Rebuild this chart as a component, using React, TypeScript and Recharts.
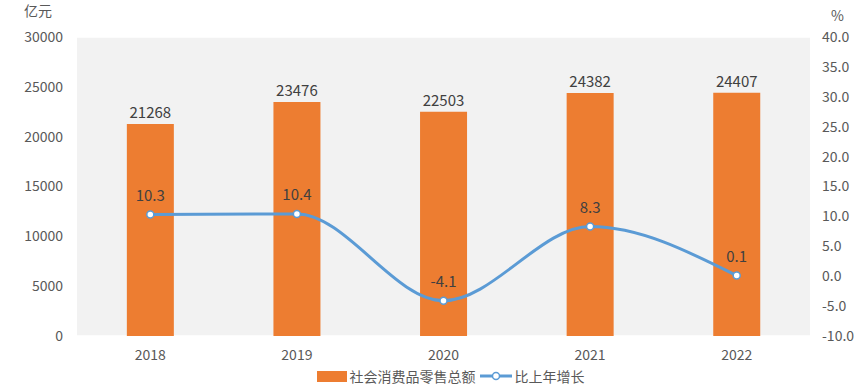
import {
  ComposedChart,
  Bar,
  Line,
  XAxis,
  YAxis,
  CartesianGrid,
  Legend,
  LabelList,
} from "recharts";

const years = ["2018", "2019", "2020", "2021", "2022"];
const retailSales = [21268, 23476, 22503, 24382, 24407];
const growth = [10.3, 10.4, -4.1, 8.3, 0.1];
const leftTicks = [0, 5000, 10000, 15000, 20000, 25000, 30000];
const rightTicks = [-10, -5, 0, 5, 10, 15, 20, 25, 30, 35, 40];

const BAR_NAME = "社会消费品零售总额";
const LINE_NAME = "比上年增长";

const data = years.map((y, i) => ({
  year: y,
  sales: retailSales[i],
  growth: growth[i],
}));

const font = '"Noto Sans CJK SC", "Noto Sans", sans-serif';
const tickStyle = { fill: "#595959", fontSize: 14, fontFamily: font };

function LegendContent() {
  return (
    <div
      style={{
        display: "flex",
        justifyContent: "center",
        alignItems: "center",
        fontFamily: font,
        fontSize: 14,
        color: "#595959",
        height: 20,
        paddingLeft: 40,
      }}
    >
      <span
        style={{
          display: "inline-block",
          width: 30,
          height: 11,
          background: "#ED7D31",
          marginRight: 3,
        }}
      />
      <span style={{ marginRight: 4 }}>{BAR_NAME}</span>
      <svg width={32} height={12} style={{ marginRight: 3 }}>
        <line x1={0} y1={6} x2={32} y2={6} stroke="#5B9BD5" strokeWidth={3} />
        <circle cx={16} cy={6} r={3.5} fill="#fff" stroke="#5B9BD5" strokeWidth={1.5} />
      </svg>
      <span>{LINE_NAME}</span>
    </div>
  );
}

export default function App() {
  return (
    <div style={{ position: "absolute", left: 0, top: 0, width: 861, height: 386, background: "#fff" }}>
      <div
        style={{
          position: "absolute",
          left: 24,
          top: 0,
          fontFamily: font,
          fontSize: 14,
          color: "#595959",
        }}
      >
        亿元
      </div>
      <div
        style={{
          position: "absolute",
          left: 831,
          top: 5,
          fontFamily: font,
          fontSize: 14,
          color: "#595959",
        }}
      >
        %
      </div>
      <ComposedChart
        width={861}
        height={386}
        data={data}
        margin={{ top: 37, right: 0, bottom: 0, left: 0 }}
        barCategoryGap="34%"
      >
        <CartesianGrid
          vertical={false}
          fill="#F2F2F2"
          stroke="#FFFFFF"
          strokeWidth={1.5}
        />
        <XAxis
          dataKey="year"
          axisLine={false}
          tickLine={false}
          tick={tickStyle}
          height={30}
          tickMargin={8}
        />
        <YAxis
          yAxisId="left"
          domain={[0, 30000]}
          ticks={leftTicks}
          axisLine={false}
          tickLine={false}
          tick={tickStyle}
          width={77}
          tickMargin={8}
        />
        <YAxis
          yAxisId="right"
          orientation="right"
          domain={[-10, 40]}
          ticks={rightTicks}
          tickFormatter={(v: number) => v.toFixed(1)}
          axisLine={false}
          tickLine={false}
          tick={tickStyle}
          width={51}
          tickMargin={6}
        />
        <Legend verticalAlign="bottom" height={20} content={<LegendContent />} />
        <Bar
          yAxisId="left"
          dataKey="sales"
          name={BAR_NAME}
          fill="#ED7D31"
          isAnimationActive={false}
        >
          <LabelList
            dataKey="sales"
            position="top"
            offset={6}
            style={{ fill: "#404040", fontSize: 15, fontFamily: font }}
          />
        </Bar>
        <Line
          yAxisId="right"
          type="monotone"
          dataKey="growth"
          name={LINE_NAME}
          stroke="#5B9BD5"
          strokeWidth={3}
          dot={{ r: 3.5, fill: "#FFFFFF", stroke: "#5B9BD5", strokeWidth: 1.5 }}
          isAnimationActive={false}
        >
          <LabelList
            dataKey="growth"
            position="top"
            offset={14}
            style={{ fill: "#404040", fontSize: 15, fontFamily: font }}
          />
        </Line>
      </ComposedChart>
    </div>
  );
}
